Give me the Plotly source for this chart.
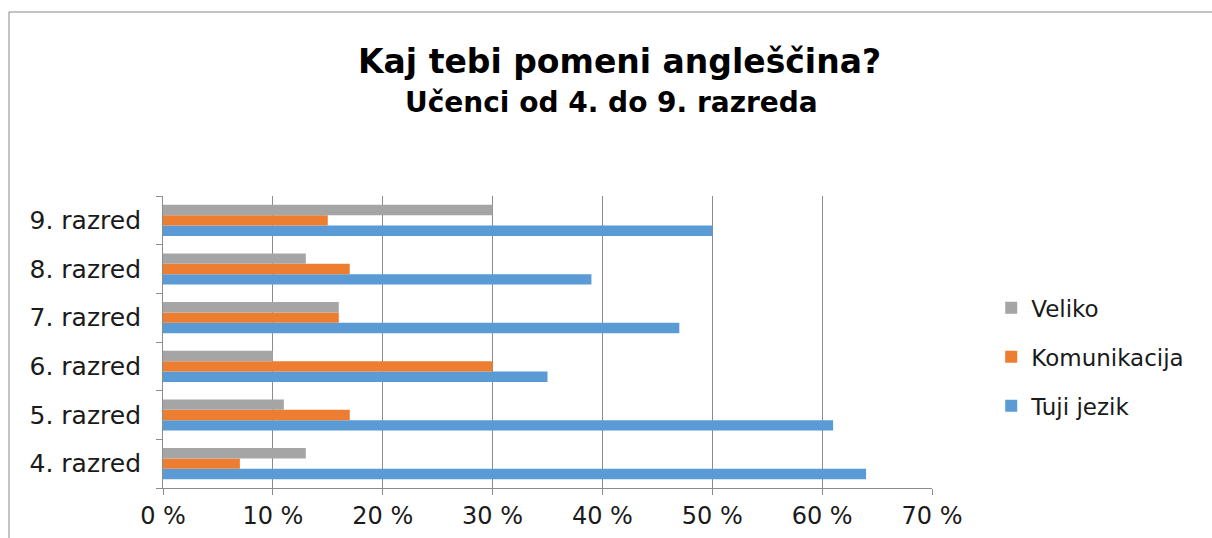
import plotly.graph_objects as go

categories = ["4. razred", "5. razred", "6. razred", "7. razred", "8. razred", "9. razred"]
tuji_jezik = [64, 61, 35, 47, 39, 50]
komunikacija = [7, 17, 30, 16, 17, 15]
veliko = [13, 11, 10, 16, 13, 30]

# (name, values, colour, legend rank)
series = [
    ("Tuji jezik", tuji_jezik, "#5B9BD5", 3),
    ("Komunikacija", komunikacija, "#ED7D31", 2),
    ("Veliko", veliko, "#A5A5A5", 1),
]

FONT = "DejaVu Sans"

fig = go.Figure()
for name, vals, color, rank in series:
    fig.add_trace(
        go.Bar(
            y=categories,
            x=vals,
            name=name,
            orientation="h",
            marker=dict(color=color, line=dict(width=0)),
            legendrank=rank,
            legendgroup=name,
        )
    )

fig.update_layout(
    width=1212,
    height=538,
    margin=dict(l=163, r=280, t=196, b=50, autoexpand=False),
    paper_bgcolor="white",
    plot_bgcolor="white",
    barmode="group",
    bargap=0.36,
    bargroupgap=0,
    font=dict(family=FONT, size=25, color="#1a1a1a"),
    showlegend=True,
    legend=dict(
        traceorder="grouped",
        tracegroupgap=16,
        x=1.077,
        xanchor="left",
        y=0.449,
        yanchor="middle",
        font=dict(family=FONT, size=23, color="#1a1a1a"),
        itemwidth=30,
    ),
    annotations=[
        dict(
            text="<b>Kaj tebi pomeni angleščina?</b>",
            xref="paper", yref="paper",
            x=(619 - 163) / 769, y=1 + (196 - 62) / 292,
            xanchor="center", yanchor="middle",
            showarrow=False,
            font=dict(family=FONT, size=33, color="black"),
        ),
        dict(
            text="<b>Učenci od 4. do 9. razreda</b>",
            xref="paper", yref="paper",
            x=(611 - 163) / 769, y=1 + (196 - 103) / 292,
            xanchor="center", yanchor="middle",
            showarrow=False,
            font=dict(family=FONT, size=28, color="black"),
        ),
    ],
    shapes=[
        dict(
            type="rect", xref="paper", yref="paper",
            x0=(9 - 163) / 769, x1=2, y0=-1, y1=1 + (196 - 12) / 292,
            line=dict(color="#898989", width=1),
            fillcolor="rgba(0,0,0,0)",
            layer="below",
        )
    ],
)

fig.update_xaxes(
    range=[0, 70],
    dtick=10,
    ticksuffix=" %",
    tickfont=dict(size=24),
    showgrid=True,
    gridcolor="#8C8C8C",
    gridwidth=1,
    showline=True,
    linecolor="#8C8C8C",
    ticks="outside",
    ticklen=6,
    tickcolor="#8C8C8C",
    zeroline=False,
    automargin=False,
)
fig.update_yaxes(
    type="category",
    showline=True,
    linecolor="#8C8C8C",
    ticks="outside",
    ticklen=6,
    tickcolor="#8C8C8C",
    tickson="boundaries",
    showgrid=False,
    ticklabelstandoff=16,
    automargin=False,
)

fig.write_html(
    "out.html",
    config={"displayModeBar": False},
    post_script="document.body.style.margin='0';",
)
